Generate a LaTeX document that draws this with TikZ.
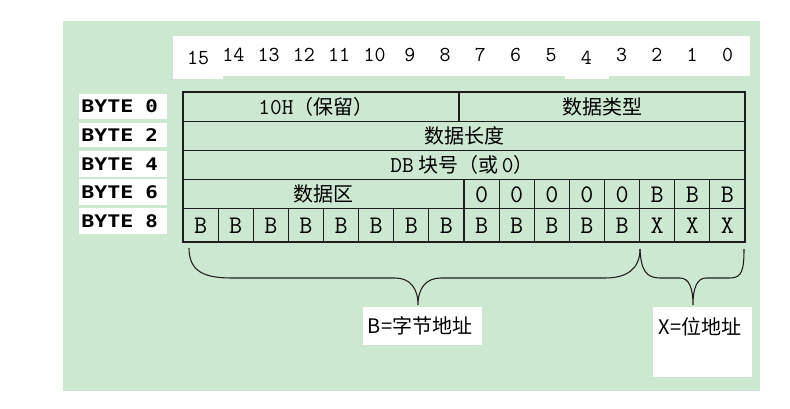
\documentclass[tikz,border=0pt]{standalone}
\usepackage{fontspec}
\usepackage{graphicx}
\newfontfamily\cjk{Noto Sans CJK SC}
\newfontfamily\bytefont{DejaVu Sans Mono}
\definecolor{bggreen}{RGB}{205,232,208}
\definecolor{linec}{RGB}{30,30,30}
\tikzset{
  tline/.style={draw=linec, line width=0.8pt},
  bitnum/.style={inner sep=0pt, font=\ttfamily\fontsize{16}{16}\selectfont},
  cell/.style={inner sep=0pt, font=\ttfamily\fontsize{19}{19}\selectfont},
  field/.style={inner sep=0pt, font=\cjk\fontsize{15}{15}\selectfont},
  bytelbl/.style={inner sep=0pt, anchor=west, font=\bytefont\bfseries\fontsize{13}{13}\selectfont},
  wbox/.style={fill=white, draw=none},
  brace/.style={draw=linec, line width=0.8pt},
  lbl/.style={inner sep=0pt, font=\cjk\fontsize{15}{15}\selectfont}
}
\newcommand{\mytt}[1]{{\ttfamily\fontsize{17}{17}\selectfont #1}}
\begin{document}
\begin{tikzpicture}[x=0.75pt,y=-0.75pt]
\useasboundingbox (0,0) rectangle (790,408);
% background
\fill[bggreen] (63,21) rectangle (760,391);
% bit number strip
\fill[white] (173,36) rectangle (750,76);
\fill[white] (173,75) rectangle (223,79);
\fill[white] (565,75) rectangle (609,79);
\foreach \k in {0,...,15}{
  \pgfmathtruncatemacro{\b}{15-\k}
  \pgfmathsetmacro{\xx}{198+35.3*\k}
  \ifnum\b=15 \def\yy{58}\else\ifnum\b=4 \def\yy{58}\else\def\yy{55}\fi\fi
  \node[bitnum] (bit\b) at (\xx,\yy) {\b};
}
% BYTE labels
\foreach \r/\ya/\yb/\d in {0/94/119/0,2/123/147/2,4/151/177/4,6/179/205/6,8/208/234/8}{
  \fill[white] (79,\ya) rectangle (167,\yb);
  \node[bytelbl] (byte\r) at (81,{(\ya+\yb)/2}) {\scalebox{1.25}[1]{BYTE}};
  \node[bytelbl] (bdig\r) at (145,{(\ya+\yb)/2}) {\scalebox{1.2}[1]{\d}};
}
% table
\draw[tline] (183,92) rectangle (745,242);
\foreach \y in {121.5,150.5,179.5,208.5}{ \draw[tline] (183,\y) -- (745,\y); }
\draw[tline] (459,92) -- (459,121.5);
\foreach \i in {8,...,15}{ \draw[tline] ({183+35.125*\i},179.5) -- ({183+35.125*\i},208.5); }
\foreach \i in {1,...,15}{ \draw[tline] ({183+35.125*\i},208.5) -- ({183+35.125*\i},242); }
% field texts
\node[field] (f10h) at (316,106.5) {\mytt{10H}（保留）};
\node[field] (ftype) at (602,106.5) {数据类型};
\node[field] (flen) at (464,136) {数据长度};
\node[field] (fdb) at (462,165) {\mytt{DB} 块号（或\mytt{\,0}）};
\node[field] (farea) at (323,194) {数据区};
\foreach \i in {8,...,15}{
  \ifnum\i<13 \def\t{0}\else\def\t{B}\fi
  \node[cell] (c6x\i) at ({183+35.125*\i+17.56},194.5) {\t};
}
\foreach \i in {0,...,15}{
  \ifnum\i<13 \def\t{B}\else\def\t{X}\fi
  \node[cell] (c8x\i) at ({183+35.125*\i+17.56},225.5) {\t};
}
% braces
\coordinate (lbL) at (189,248);
\coordinate (lbT) at (418,305);
\coordinate (lbR) at (640,249);
\coordinate (rbT) at (693,305);
\coordinate (rbR) at (744,249);
\draw[brace] (lbL) .. controls (189,272) and (205,278) .. (232,278) -- (395,278)
  .. controls (410,278) and (418,288) .. (lbT)
  .. controls (418,288) and (426,278) .. (441,278) -- (605,278)
  .. controls (628,278) and (640,268) .. (lbR);
\draw[brace] (lbR) .. controls (641,270) and (646,278) .. (660,278) -- (680,278)
  .. controls (689,278) and (693,288) .. (rbT)
  .. controls (693,288) and (697,278) .. (706,278) -- (730,278)
  .. controls (742,278) and (744,270) .. (rbR);
% labels
\fill[white] (363,307) rectangle (482,345);
\node[lbl] (bl) at (420,326) {B=字节地址};
\fill[white] (653,307) rectangle (752,377);
\node[lbl] (xl) at (700,327) {X=位地址};
\end{tikzpicture}
\end{document}
